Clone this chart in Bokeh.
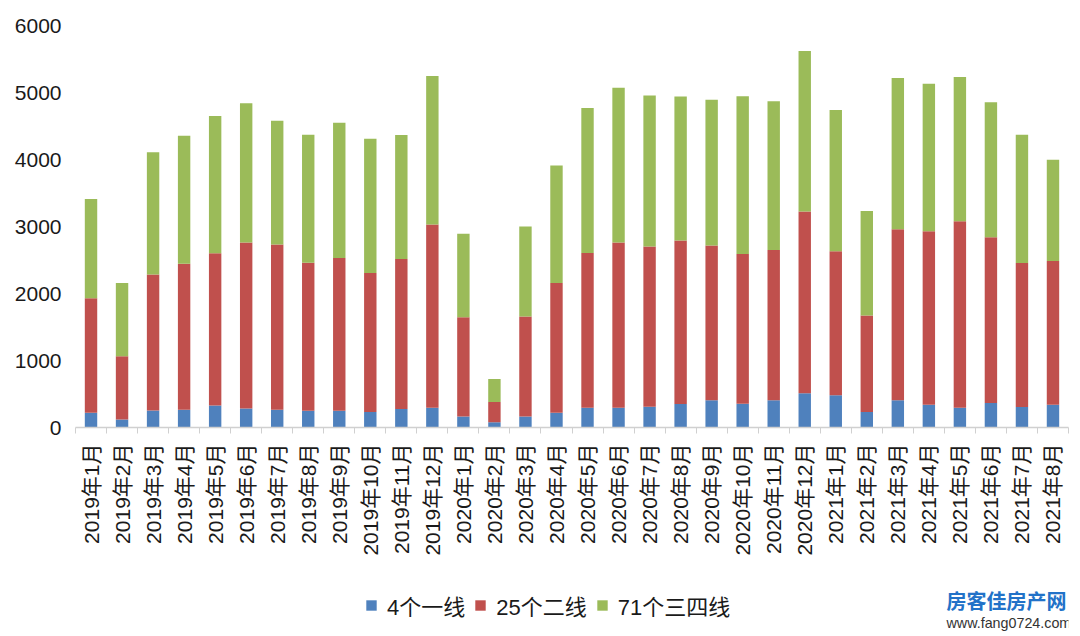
import math
from bokeh.plotting import figure
from bokeh.layouts import column
from bokeh.models import ColumnDataSource, Range1d, FixedTicker, Legend, LegendItem, Label
from bokeh.embed import file_html
from bokeh.resources import INLINE

months = ["2019年1月", "2019年2月", "2019年3月", "2019年4月", "2019年5月", "2019年6月",
          "2019年7月", "2019年8月", "2019年9月", "2019年10月", "2019年11月", "2019年12月",
          "2020年1月", "2020年2月", "2020年3月", "2020年4月", "2020年5月", "2020年6月",
          "2020年7月", "2020年8月", "2020年9月", "2020年10月", "2020年11月", "2020年12月",
          "2021年1月", "2021年2月", "2021年3月", "2021年4月", "2021年5月", "2021年6月",
          "2021年7月", "2021年8月"]

tier1 = [220, 120, 255, 265, 330, 285, 265, 250, 250, 230, 275, 295,
         165, 80, 165, 220, 295, 295, 310, 350, 405, 355, 405, 510,
         480, 230, 405, 340, 295, 365, 305, 340]
tier2 = [1710, 945, 2030, 2180, 2270, 2475, 2465, 2210, 2280, 2075, 2240, 2735,
         1480, 300, 1490, 1935, 2310, 2465, 2390, 2440, 2310, 2235, 2245, 2715,
         2150, 1440, 2555, 2590, 2785, 2475, 2150, 2145]
tier34 = [1480, 1090, 1825, 1910, 2050, 2080, 1850, 1910, 2020, 2005, 1850, 2215,
          1245, 345, 1345, 1755, 2165, 2310, 2255, 2150, 2175, 2355, 2220, 2395,
          2110, 1560, 2255, 2200, 2150, 2015, 1915, 1510]

series_names = ["4个一线", "25个二线", "71个三四线"]
colors = ["#4F81BD", "#C0504D", "#9BBB59"]
y_ticks = [0, 1000, 2000, 3000, 4000, 5000, 6000]

FONT = "Liberation Sans, Noto Sans CJK SC"
TXT = "#1a1a1a"
W = 1078
LEFT, RIGHT = 75, 10

n = len(months)
xs = [i + 0.5 for i in range(n)]
source = ColumnDataSource(dict(x=xs, t1=tier1, t2=tier2, t3=tier34))

p = figure(width=W, height=576, output_backend="svg", toolbar_location=None,
           x_range=Range1d(0, n), y_range=Range1d(0, 6000),
           min_border_left=LEFT, min_border_right=RIGHT, min_border_top=25,
           min_border_bottom=149, background_fill_color="white")
p.outline_line_color = None
p.grid.visible = False

rs = p.vbar_stack(["t1", "t2", "t3"], x="x", width=0.4, source=source,
                  fill_color=colors, line_color=None)

# x axis
xa = p.xaxis[0]
xa.ticker = FixedTicker(ticks=xs, minor_ticks=list(range(n + 1)))
xa.major_label_overrides = {x: m for x, m in zip(xs, months)}
xa.major_label_orientation = math.pi / 2
xa.major_label_text_font = FONT
xa.major_label_text_font_size = "21px"
xa.major_label_text_color = TXT
xa.major_tick_line_color = None
xa.major_tick_out = 0
xa.major_tick_in = 0
xa.minor_tick_line_color = "#d0d0d0"
xa.minor_tick_out = 6
xa.minor_tick_in = 0
xa.axis_line_color = "#d0d0d0"
xa.axis_line_width = 1.5
xa.major_label_standoff = 10

# y axis
ya = p.yaxis[0]
ya.ticker = FixedTicker(ticks=y_ticks)
ya.axis_line_color = None
ya.major_tick_line_color = None
ya.minor_tick_line_color = None
ya.major_tick_out = 0
ya.major_label_text_font = FONT
ya.major_label_text_font_size = "21px"
ya.major_label_text_color = TXT
ya.major_label_standoff = 14

# bottom strip: legend + watermark (frame aligned with the main plot)
H2 = 58
p2 = figure(width=W, height=H2, output_backend="svg", toolbar_location=None,
            x_range=Range1d(LEFT, W - RIGHT), y_range=Range1d(0, H2),
            x_axis_type=None, y_axis_type=None, min_border=0,
            min_border_left=LEFT, min_border_right=RIGHT,
            background_fill_color="white")
p2.outline_line_color = None
p2.grid.visible = False
key_rs = [p2.scatter(x="x", y=col, source=source, marker="square", size=10,
                     fill_color=c, line_color=None, visible=False)
          for col, c in zip(["t1", "t2", "t3"], colors)]

items = [LegendItem(label=nm, renderers=[r]) for nm, r in zip(series_names, key_rs)]
legend = Legend(items=items, location=(358 - LEFT, 13), orientation="horizontal",
                glyph_width=26, glyph_height=26, label_standoff=3, spacing=2,
                padding=0, margin=0, border_line_color=None,
                background_fill_alpha=0, inactive_fill_alpha=0,
                label_text_font=FONT, label_text_font_size="22px",
                label_text_color=TXT)
p2.add_layout(legend)

wm1 = Label(x=946, y=34, text="房客佳房产网",
            text_font="Noto Sans CJK SC", text_font_style="bold", text_font_size="20px",
            text_color="#2272c8", text_baseline="middle", text_align="left")
wm2 = Label(x=946, y=12, text="www.fang0724.com",
            text_font="Liberation Sans", text_font_size="14.3px",
            text_color="#333333", text_baseline="middle", text_align="left")
p2.add_layout(wm1)
p2.add_layout(wm2)

layout = column(p, p2, spacing=0)
open("out.html", "w").write(file_html(layout, INLINE))
